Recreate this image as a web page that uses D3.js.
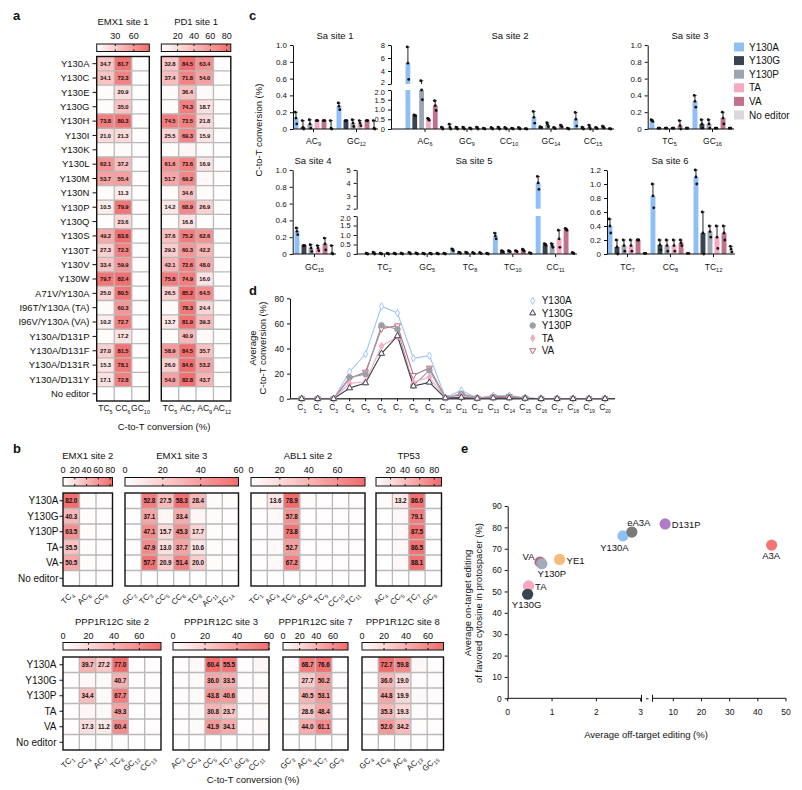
<!DOCTYPE html>
<html><head><meta charset="utf-8">
<script src="https://cdn.jsdelivr.net/npm/d3@7"></script>
<style>
body{margin:0;background:#fff}
svg{display:block}
text{font-family:"Liberation Sans",Arial,Helvetica,sans-serif;fill:#111}
</style>
</head><body>
<svg id="c" width="802" height="790"></svg>
<script>
// ---------------- DATA ----------------
const rowsA = ["Y130A","Y130C","Y130E","Y130G","Y130H","Y130I","Y130K","Y130L","Y130M","Y130N","Y130P","Y130Q","Y130S","Y130T","Y130V","Y130W","A71V/Y130A","I96T/Y130A (TA)","I96V/Y130A (VA)","Y130A/D131P","Y130A/D131F","Y130A/D131R","Y130A/D131Y","No editor"];
const emx1s1Cols = ["TC5","CC6","GC10"];
const emx1s1Ticks = [30,60];
const emx1s1Vals = [
 [34.7,81.7,1.2],[34.1,72.3,1.2],[2.5,20.9,1.0],[2.5,35.0,1.0],[73.8,80.3,1.2],[21.0,21.3,1.0],
 [1.5,3.0,0.8],[62.1,37.2,1.0],[53.7,55.4,1.0],[1.5,11.3,0.8],[10.5,79.9,1.0],[2.0,23.6,0.8],
 [49.2,83.6,1.0],[27.3,72.3,1.0],[33.4,59.9,1.0],[79.7,82.4,1.0],[25.0,80.5,1.0],[3.0,60.3,1.0],
 [10.2,72.7,1.0],[2.0,17.2,0.8],[27.0,81.5,1.0],[15.3,78.1,1.0],[17.1,72.8,1.0],[0.5,0.5,0.5]];
const pd1s1Cols = ["TC5","AC7","AC9","AC12"];
const pd1s1Ticks = [20,40,60,80];
const pd1s1Vals = [
 [32.8,84.5,63.4,1.0],[37.4,71.8,54.0,1.0],[3.0,36.4,3.0,1.0],[2.5,74.3,18.7,1.0],[74.5,73.5,21.8,1.0],
 [25.5,69.3,15.9,1.0],[1.5,6.0,1.5,0.8],[61.6,73.6,16.9,1.0],[51.7,69.2,4.0,1.0],[2.0,34.6,2.0,0.8],
 [14.2,68.9,26.9,1.0],[2.0,16.8,2.0,0.8],[37.6,75.2,62.6,1.0],[29.3,60.3,42.2,1.0],[42.1,72.6,48.0,1.0],
 [75.8,74.9,16.0,1.0],[26.5,85.2,64.5,1.0],[3.0,78.3,24.4,1.0],[13.7,81.9,39.3,1.0],[2.0,40.9,3.0,0.8],
 [58.9,84.5,35.7,1.0],[26.0,84.6,53.2,1.0],[54.0,82.8,43.7,1.0],[0.5,0.5,0.5,0.5]];

const rowsB = ["Y130A","Y130G","Y130P","TA","VA","No editor"];
const emx1s2Cols = ["TC4","AC6","CC8"];
const emx1s2Ticks = [0,20,40,60,80];
const emx1s2Vals = [[82.0,2,1],[40.3,1.5,1],[63.5,1.5,1],[35.5,1.5,1],[50.5,1.5,1],[0.5,0.5,0.5]];
const emx1s3Cols = ["GC2","TC3","CC5","CC6","TC8","AC11","TC14"];
const emx1s3Ticks = [0,20,40,60];
const emx1s3Vals = [[1,52.8,27.5,58.3,28.4,2,1.5],[1,37.1,4,33.4,4,1.5,1],[1,47.1,15.7,45.3,17.7,1.5,1],[1,47.9,13.0,37.7,10.6,1.5,1],[1,57.7,20.9,51.4,20.0,1.5,1],[0.5,0.5,0.5,0.5,0.5,0.5,0.5]];
const abl1s2Cols = ["TC1","AC4","TC5","GC6","TC9","CC10","TC11"];
const abl1s2Ticks = [0,20,40,60];
const abl1s2Vals = [[1.5,13.6,78.9,2,1,1,1],[1,4,57.8,1,1,1,1],[1,4,73.8,1,1,1,1],[1,4,52.7,1,1,1,1],[1,4,67.2,1,1,1,1],[0.5,0.5,0.5,0.5,0.5,0.5,0.5]];
const tp53Cols = ["AC4","CC5","TC7","GC9"];
const tp53Ticks = [20,40,60,80];
const tp53Vals = [[2.5,13.2,86.0,1.5],[1.5,5,79.1,1],[1.5,5,87.5,1],[1.5,5,86.5,1],[1.5,5,88.1,1],[0.5,0.5,0.5,0.5]];
const ppps2Cols = ["TC1","CC4","AC7","TC8","GC12","CC13"];
const ppps2Ticks = [0,20,40,60];
const ppps2Vals = [[1,39.7,27.2,77.0,1,1],[1,4,3,40.7,1,1],[1,34.4,3,67.7,1,1],[1,5,3,49.3,1,1],[1,17.3,11.2,60.4,1,1],[0.5,0.5,0.5,0.5,0.5,0.5]];
const ppps3Cols = ["AC3","CC4","CC5","TC7","GC8","CC11"];
const ppps3Ticks = [0,20,40,60];
const ppps3Vals = [[1,3,60.4,55.5,1,4],[1,2,36.0,33.5,1,1.5],[1,2,43.8,40.6,1,3],[1,2,30.8,23.7,1,1.5],[1,2,41.9,34.1,1,2],[0.5,0.5,0.5,0.5,0.5,0.5]];
const ppps7Cols = ["GC3","AC5","TC7","GC9"];
const ppps7Ticks = [0,20,40,60];
const ppps7Vals = [[2,68.7,76.6,1],[1,27.7,50.2,1],[1,40.5,53.1,1],[1,28.6,48.4,1],[1,44.0,61.1,1],[0.5,0.5,0.5,0.5]];
const ppps8Cols = ["GC4","TC6","AC8","AC13","GC15"];
const ppps8Ticks = [0,20,40,60];
const ppps8Vals = [[2,72.7,59.8,4,1],[1,36.0,19.0,1.5,1],[1,44.8,19.9,3,1],[1,35.3,19.3,1.5,1],[1,52.0,34.2,1.5,1],[0.5,0.5,0.5,0.5,0.5]];

const cSeries = ["Y130A","Y130G","Y130P","TA","VA","No editor"];
const cColors = ["#8fbff4","#3b4351","#9ca5b3","#f5a9c0","#c0718b","#d9d9d9"];
const sa1Groups = ["AC9","GC12"];
const sa1Mean = [[0.13,0.02,0.06,0.10,0.10,0.01],[0.27,0.10,0.07,0.07,0.10,0.01]];
const sa1Sd   = [[0.07,0.08,0.05,0.00,0.00,0.09],[0.04,0.00,0.04,0.03,0.00,0.09]];
const sa2Groups = ["AC6","GC9","CC10","GC14","CC15"];
const sa2Mean = [[5.2,0.70,2.0,0.50,1.20,0.05],[0.10,0.05,0.05,0.02,0.05,0.02],[0.03,0.05,0.03,0.02,0.03,0.01],[0.60,0.10,0.22,0.05,0.15,0.02],[0.50,0.05,0.10,0.05,0.10,0.01]];
const sa2Sd   = [[2.5,0.02,0.5,0.05,0.25,0.05],[0.15,0.05,0.05,0.03,0.05,0.02],[0.05,0.05,0.05,0.02,0.05,0.01],[0.30,0.02,0.10,0.03,0.05,0.02],[0.35,0.05,0.10,0.03,0.05,0.01]];
const sa3Groups = ["TC5","GC16"];
const sa3Mean = [[0.10,0.01,0.01,0.01,0.04,0.01],[0.33,0.06,0.06,0.01,0.13,0.01]];
const sa3Sd   = [[0.01,0.00,0.00,0.00,0.06,0.00],[0.07,0.05,0.05,0.00,0.07,0.00]];
const sa4Groups = ["GC15"];
const sa4Mean = [[0.27,0.10,0.07,0.07,0.12,0.01]];
const sa4Sd   = [[0.04,0.00,0.04,0.03,0.07,0.09]];
const sa5Groups = ["TC2","GC5","TC8","TC10","CC11"];
const sa5Mean = [[0.02,0.05,0.02,0.02,0.02,0.02],[0.05,0.03,0.02,0.02,0.02,0.02],[0.22,0.07,0.07,0.05,0.05,0.02],[0.95,0.15,0.15,0.15,0.20,0.05],[4.0,0.50,0.45,0.80,1.30,0.05]];
const sa5Sd   = [[0.02,0.05,0.02,0.02,0.02,0.02],[0.04,0.03,0.02,0.02,0.02,0.02],[0.05,0.03,0.03,0.03,0.03,0.02],[0.15,0.03,0.03,0.03,0.05,0.02],[0.5,0.05,0.10,0.45,0.05,0.03]];
const sa6Groups = ["TC7","CC8","TC12"];
const sa6Mean = [[0.40,0.10,0.12,0.12,0.20,0.01],[0.83,0.13,0.12,0.12,0.16,0.01],[1.10,0.30,0.32,0.24,0.30,0.07]];
const sa6Sd   = [[0.10,0.10,0.08,0.08,0.00,0.00],[0.17,0.07,0.08,0.08,0.04,0.00],[0.10,0.30,0.08,0.16,0.10,0.04]];

const dPositions = ["1","2","3","4","5","6","7","8","9","10","11","12","13","14","15","16","17","18","19","20"];
const dY130A = [0,0,0,21.5,35.6,73.6,68.3,32.2,34.3,1.0,6.6,0.5,2.5,2.5,0.8,0,0,0,0,0];
const dY130G = [0,0,0,8.5,12.5,36.0,50.0,10.0,13.0,0.5,1.0,0.2,0.5,0.5,0.2,0,0,0,0,0];
const dY130P = [0,0,0,17.0,19.4,58.5,55.3,10.5,22.6,0.5,4.0,0.5,1.0,1.5,0.5,0,0,0,0,0];
const dTA    = [0,0,0,12.2,13.5,42.0,49.4,13.0,17.3,0.5,2.0,0.5,1.0,1.0,0.3,0,0,0,0,0];
const dVA    = [0,0,0,16.2,21.3,55.8,58.2,18.6,24.5,1.0,3.0,0.5,1.5,2.0,0.5,0,0,0,0,0];

const eNames = ["VA","Y130P","YE1","TA","Y130G","Y130A","eA3A","D131P","A3A"];
const eOff   = [0.73,0.77,1.17,0.47,0.45,2.6,2.8,7.1,44.9];
const eOn    = [63.8,63.0,65.0,52.6,48.7,76.0,77.8,81.6,71.7];
const eColors= ["#b5647e","#a3abb8","#f5ba7c","#f5a8bf","#3a4352","#8fc0f5","#7a7a7a","#b07cc8","#f47474"];
const eXTicksLow = [0,1,2,3];
const eXTicksHigh = [10,20,30,40,50];
const eYTicks = [0,10,20,30,40,50,60,70,80,90];

// ---------------- DRAWING ----------------
const HEAT = "#f26c6c";
const svg = d3.select("#c");
const defs = svg.append("defs");
let gid = 0;

function subLabel(sel, label, size, subSize) {
  const m = label.match(/^([A-Za-z]+)(\d+)$/);
  sel.attr("font-size", size);
  sel.append("tspan").text(m[1]);
  sel.append("tspan").attr("font-size", subSize).attr("dy", size * 0.3).text(m[2]);
}

function rowLabels(rows, y0, y1, xEnd, tickX1, tickX2, size) {
  const yb = d3.scaleBand().domain(rows).range([y0, y1]);
  const g = svg.append("g");
  rows.forEach(r => {
    const y = yb(r) + yb.bandwidth() / 2;
    g.append("text").attr("x", xEnd).attr("y", y).attr("dy", "0.35em").attr("text-anchor", "end").attr("font-size", size).text(r);
    g.append("line").attr("x1", tickX1).attr("x2", tickX2).attr("y1", y).attr("y2", y).attr("stroke", "#111").attr("stroke-width", 1);
  });
}

function heatmap(o) {
  const g = svg.append("g");
  const xb = d3.scaleBand().domain(d3.range(o.cols.length)).range([o.x0, o.x1]);
  const yb = d3.scaleBand().domain(o.rows).range([o.y0, o.y1]);
  const col = d3.scaleLinear().domain([0, o.max]).range(["#ffffff", HEAT]).clamp(true);
  o.vals.forEach((r, i) => r.forEach((v, j) => {
    g.append("rect").attr("x", xb(j)).attr("y", yb(o.rows[i])).attr("width", xb.bandwidth()).attr("height", yb.bandwidth()).attr("fill", col(v));
    if (v >= 10) g.append("text").attr("x", xb(j) + xb.bandwidth() / 2).attr("y", yb(o.rows[i]) + yb.bandwidth() / 2)
      .attr("dy", "0.36em").attr("text-anchor", "middle").attr("font-size", o.cellFont).attr("font-weight", "bold").attr("letter-spacing", -0.1).text(v.toFixed(1));
  }));
  const grid = g.append("g").attr("stroke", "#b9b9b9").attr("stroke-width", 1.3);
  for (let j = 1; j < o.cols.length; j++) grid.append("line").attr("x1", xb(j)).attr("x2", xb(j)).attr("y1", o.y0).attr("y2", o.y1);
  o.rows.forEach((r, i) => { if (i > 0) grid.append("line").attr("x1", o.x0).attr("x2", o.x1).attr("y1", yb(r)).attr("y2", yb(r)); });
  g.append("rect").attr("x", o.x0).attr("y", o.y0).attr("width", o.x1 - o.x0).attr("height", o.y1 - o.y0)
    .attr("fill", "none").attr("stroke", "#111").attr("stroke-width", 1.4);
  // colour bar
  const id = "grad" + (gid++);
  const lg = defs.append("linearGradient").attr("id", id);
  lg.append("stop").attr("offset", "0%").attr("stop-color", "#ffffff");
  lg.append("stop").attr("offset", "100%").attr("stop-color", HEAT);
  const cs = d3.scaleLinear().domain([0, o.max]).range([o.x0, o.x1]);
  g.append("rect").attr("x", o.x0).attr("y", o.cb0).attr("width", o.x1 - o.x0).attr("height", o.cb1 - o.cb0)
    .attr("fill", `url(#${id})`).attr("stroke", "#111").attr("stroke-width", 1);
  o.ticks.forEach(t => {
    const x = cs(t);
    if (t > 0) {
      g.append("line").attr("x1", x).attr("x2", x).attr("y1", o.cb0).attr("y2", o.cb0 + 2).attr("stroke", "#111");
      g.append("line").attr("x1", x).attr("x2", x).attr("y1", o.cb1 - 2).attr("y2", o.cb1).attr("stroke", "#111");
    }
    g.append("text").attr("x", x).attr("y", o.tickY).attr("text-anchor", "middle").attr("font-size", o.tickFont).text(t);
  });
  g.append("text").attr("x", (o.x0 + o.x1) / 2).attr("y", o.titleY).attr("text-anchor", "middle").attr("font-size", o.titleFont).text(o.title);
  o.cols.forEach((c, j) => {
    const cx = xb(j) + xb.bandwidth() / 2;
    if (o.rotate) {
      const t = g.append("text").attr("transform", `translate(${cx + 3},${o.labY}) rotate(-45)`).attr("text-anchor", "end");
      subLabel(t, c, 8, 5.5);
    } else {
      const t = g.append("text").attr("x", cx).attr("y", o.labY).attr("text-anchor", "middle");
      subLabel(t, c, 8.5, 5.5);
    }
  });
}

// ---- Panel a ----
svg.append("text").attr("x", 13).attr("y", 20).attr("font-size", 13).attr("font-weight", "bold").text("a");
const aCommon = {rows: rowsA, y0: 56.5, y1: 401, cb0: 44, cb1: 51.5, tickY: 39, titleY: 25, labY: 411, cellFont: 5.8, tickFont: 9, titleFont: 9.5, max: 85};
heatmap(Object.assign({}, aCommon, {x0: 96.7, x1: 149.3, cols: emx1s1Cols, vals: emx1s1Vals, ticks: emx1s1Ticks, title: "EMX1 site 1"}));
heatmap(Object.assign({}, aCommon, {x0: 161.3, x1: 230.8, cols: pd1s1Cols, vals: pd1s1Vals, ticks: pd1s1Ticks, title: "PD1 site 1"}));
rowLabels(rowsA, 56.5, 401, 89.5, 92.5, 96.7, 9.5);
svg.append("text").attr("x", 164).attr("y", 430).attr("text-anchor", "middle").attr("font-size", 9.5).text("C-to-T conversion (%)");

// ---- Panel b ----
svg.append("text").attr("x", 13).attr("y", 453).attr("font-size", 13).attr("font-weight", "bold").text("b");
const bTop = {rows: rowsB, y0: 493, y1: 586, cb0: 477.5, cb1: 486, tickY: 472.5, titleY: 459, labY: 595, cellFont: 6.3, tickFont: 9, titleFont: 9.5, rotate: true};
heatmap(Object.assign({}, bTop, {x0: 63, x1: 112.5, cols: emx1s2Cols, vals: emx1s2Vals, ticks: emx1s2Ticks, max: 84, title: "EMX1 site 2"}));
heatmap(Object.assign({}, bTop, {x0: 125, x1: 238.5, cols: emx1s3Cols, vals: emx1s3Vals, ticks: emx1s3Ticks, max: 60, title: "EMX1 site 3"}));
heatmap(Object.assign({}, bTop, {x0: 251, x1: 365, cols: abl1s2Cols, vals: abl1s2Vals, ticks: abl1s2Ticks, max: 79, title: "ABL1 site 2"}));
heatmap(Object.assign({}, bTop, {x0: 376, x1: 441.5, cols: tp53Cols, vals: tp53Vals, ticks: tp53Ticks, max: 90, title: "TP53"}));
rowLabels(rowsB, 493, 586, 58.5, 59.5, 63, 10);
const bBot = {rows: rowsB, y0: 657, y1: 750, cb0: 642.5, cb1: 650, tickY: 638.5, titleY: 624.5, labY: 759, cellFont: 6.3, tickFont: 9, titleFont: 9.5, rotate: true};
heatmap(Object.assign({}, bBot, {x0: 63, x1: 161, cols: ppps2Cols, vals: ppps2Vals, ticks: ppps2Ticks, max: 77, title: "PPP1R12C site 2"}));
heatmap(Object.assign({}, bBot, {x0: 173, x1: 269, cols: ppps3Cols, vals: ppps3Vals, ticks: ppps3Ticks, max: 60, title: "PPP1R12C site 3"}));
heatmap(Object.assign({}, bBot, {x0: 283, x1: 348, cols: ppps7Cols, vals: ppps7Vals, ticks: ppps7Ticks, max: 78, title: "PPP1R12C site 7"}));
heatmap(Object.assign({}, bBot, {x0: 362, x1: 443.5, cols: ppps8Cols, vals: ppps8Vals, ticks: ppps8Ticks, max: 74, title: "PPP1R12C site 8"}));
rowLabels(rowsB, 657, 750, 56.5, 59.5, 63, 10);
svg.append("text").attr("x", 253).attr("y", 783).attr("text-anchor", "middle").attr("font-size", 9.5).text("C-to-T conversion (%)");

// ---- Panel c ----
svg.append("text").attr("x", 249).attr("y", 20).attr("font-size", 13).attr("font-weight", "bold").text("c");
svg.append("text").attr("transform", "translate(262,130) rotate(-90)").attr("text-anchor", "middle").attr("font-size", 9.5).text("C-to-T conversion (%)");

const fmtDec = d => d === 0 ? "0" : d3.format(".1f")(d);
function barPanel(o) {
  const g = svg.append("g");
  const gx = d3.scaleBand().domain(o.groups).range(o.band);
  const bx = d3.scaleBand().domain(cSeries).range([1.5, gx.bandwidth() - 1.5]).paddingInner(0.3);
  const low = d3.scaleLinear().domain(o.lowDom).range(o.lowRange);
  const up = o.upDom ? d3.scaleLinear().domain(o.upDom).range(o.upRange) : null;
  const brk = o.lowDom[1];
  const Y = v => (up && v > brk) ? up(v) : low(v);
  const seg = (a, b) => {
    if (!up || b <= brk) return [[low(a), low(b)]];
    if (a >= brk) return [[up(a), up(b)]];
    return [[low(a), low(brk)], [up(brk), up(b)]];
  };
  o.groups.forEach((gr, i) => {
    cSeries.forEach((s, k) => {
      const m = o.mean[i][k], sd = o.sd[i][k];
      const x = gx(gr) + bx(s), w = bx.bandwidth(), cx = x + w / 2;
      seg(0, m).forEach(([y1, y2]) => g.append("rect").attr("x", x).attr("y", y2).attr("width", w).attr("height", Math.max(0, y1 - y2)).attr("fill", cColors[k]));
      if (sd > 0) {
        seg(m, m + sd).forEach(([y1, y2]) => g.append("line").attr("x1", cx).attr("x2", cx).attr("y1", y1).attr("y2", y2).attr("stroke", "#111").attr("stroke-width", 0.9));
        const yt = Y(m + sd);
        g.append("line").attr("x1", cx - 1.6).attr("x2", cx + 1.6).attr("y1", yt).attr("y2", yt).attr("stroke", "#111").attr("stroke-width", 0.9);
      }
      [m + sd, m, Math.max(0, m - sd)].forEach((v, q) => g.append("circle").attr("cx", cx + (q - 1) * 0.8).attr("cy", Y(v)).attr("r", 1.4).attr("fill", "#111"));
    });
    const gc = gx(gr) + gx.bandwidth() / 2;
    g.append("line").attr("x1", gc).attr("x2", gc).attr("y1", o.lowRange[0]).attr("y2", o.lowRange[0] + 3).attr("stroke", "#111");
    const t = g.append("text").attr("x", gc).attr("y", o.labY).attr("text-anchor", "middle");
    subLabel(t, gr, 8.5, 5.5);
  });
  const fs = up ? 7.5 : 8;
  const axL = g.append("g").attr("transform", `translate(${o.axisX},0)`)
    .call(d3.axisLeft(low).tickValues(o.lowTicks).tickSize(3).tickSizeOuter(0).tickFormat(o.lowFmt || fmtDec));
  axL.attr("font-size", fs);
  if (up) {
    axL.selectAll(".tick text").filter(d => d === brk).attr("dy", "0.55em");
    const axU = g.append("g").attr("transform", `translate(${o.axisX},0)`)
      .call(d3.axisLeft(up).tickValues(o.upTicks).tickSize(3).tickSizeOuter(0).tickFormat(d3.format("d")));
    axU.attr("font-size", fs);
    axU.selectAll(".tick text").filter(d => d === brk).attr("dy", "0.1em");
  }
  g.selectAll(".domain, .tick line").attr("stroke", "#111");
  g.append("line").attr("x1", o.axisX).attr("x2", o.axisEnd).attr("y1", o.lowRange[0]).attr("y2", o.lowRange[0]).attr("stroke", "#111");
  g.append("text").attr("x", o.titleX).attr("y", o.titleY).attr("text-anchor", "middle").attr("font-size", 9.5).text(o.title);
}
const t01 = [0, 0.2, 0.4, 0.6, 0.8, 1.0];
const t02 = [0, 0.5, 1.0, 1.5, 2.0];
barPanel({axisX: 293, axisEnd: 378, band: [292, 378], groups: sa1Groups, mean: sa1Mean, sd: sa1Sd, lowDom: [0, 1], lowRange: [129, 45], lowTicks: t01, title: "Sa site 1", titleX: 335, titleY: 39, labY: 143.5});
barPanel({axisX: 391, axisEnd: 614, band: [404, 614], groups: sa2Groups, mean: sa2Mean, sd: sa2Sd, lowDom: [0, 2], lowRange: [129, 90], lowTicks: t02, upDom: [2, 8], upRange: [84, 45], upTicks: [2, 4, 6, 8], title: "Sa site 2", titleX: 510, titleY: 39, labY: 143.5});
barPanel({axisX: 647.7, axisEnd: 734, band: [648, 734], groups: sa3Groups, mean: sa3Mean, sd: sa3Sd, lowDom: [0, 1], lowRange: [129, 45], lowTicks: t01, title: "Sa site 3", titleX: 690, titleY: 39, labY: 143.5});
barPanel({axisX: 292.7, axisEnd: 336, band: [293, 336], groups: sa4Groups, mean: sa4Mean, sd: sa4Sd, lowDom: [0, 1], lowRange: [254, 170], lowTicks: t01, title: "Sa site 4", titleX: 313, titleY: 164, labY: 269.5});
barPanel({axisX: 356.7, axisEnd: 577, band: [363, 577], groups: sa5Groups, mean: sa5Mean, sd: sa5Sd, lowDom: [0, 2], lowRange: [254, 216], lowTicks: t02, upDom: [2, 5], upRange: [208.7, 170], upTicks: [2, 3, 4, 5], title: "Sa site 5", titleX: 474, titleY: 164, labY: 269.5});
barPanel({axisX: 607, axisEnd: 735, band: [606, 735], groups: sa6Groups, mean: sa6Mean, sd: sa6Sd, lowDom: [0, 1.2], lowRange: [254, 170], lowTicks: [0, 0.2, 0.4, 0.6, 0.8, 1.0, 1.2], title: "Sa site 6", titleX: 670, titleY: 164, labY: 269.5});
// legend c
const legC = svg.append("g");
const legY = d3.scalePoint().domain(cSeries).range([47, 115]);
cSeries.forEach((s, k) => {
  legC.append("rect").attr("x", 734).attr("y", legY(s) - 4.5).attr("width", 10).attr("height", 9).attr("fill", cColors[k]);
  legC.append("text").attr("x", 749).attr("y", legY(s)).attr("dy", "0.35em").attr("font-size", 10).text(s);
});

// ---- Panel d ----
svg.append("text").attr("x", 249).attr("y", 295).attr("font-size", 13).attr("font-weight", "bold").text("d");
const dx = d3.scalePoint().domain(dPositions).range([301.7, 605]);
const dy = d3.scaleLinear().domain([0, 80]).range([398.7, 298.3]);
const gd = svg.append("g");
gd.append("g").attr("transform", "translate(290,0)").call(d3.axisLeft(dy).tickValues([0, 20, 40, 60, 80]).tickSize(3).tickSizeOuter(0)).attr("font-size", 8.5);
gd.selectAll(".domain, .tick line").attr("stroke", "#111");
gd.append("line").attr("x1", 290).attr("x2", 615).attr("y1", dy(0)).attr("y2", dy(0)).attr("stroke", "#444").attr("stroke-width", 1.6);
dPositions.forEach(p => {
  gd.append("line").attr("x1", dx(p)).attr("x2", dx(p)).attr("y1", dy(0)).attr("y2", dy(0) + 2.5).attr("stroke", "#111");
  const t = gd.append("text").attr("x", dx(p)).attr("y", 410).attr("text-anchor", "middle");
  subLabel(t, "C" + p, 8.5, 5);
});
svg.append("text").attr("transform", "translate(256,348) rotate(-90)").attr("text-anchor", "middle").attr("font-size", 9.5).text("Average");
svg.append("text").attr("transform", "translate(266,348) rotate(-90)").attr("text-anchor", "middle").attr("font-size", 9.5).text("C-to-T conversion (%)");
const dSeries = [
  {name: "Y130A", vals: dY130A, color: "#9fc6f6", sym: d3.symbolDiamond, fill: "#ffffff", rot: 0, size: 15},
  {name: "Y130G", vals: dY130G, color: "#3b3e4a", sym: d3.symbolTriangle, fill: "#ffffff", rot: 0, size: 16},
  {name: "Y130P", vals: dY130P, color: "#9d9da6", sym: d3.symbolCircle, fill: "#9d9da6", rot: 0, size: 24},
  {name: "TA", vals: dTA, color: "#f4aec3", sym: d3.symbolDiamond, fill: "#f4aec3", rot: 0, size: 15},
  {name: "VA", vals: dVA, color: "#b8697f", sym: d3.symbolTriangle, fill: "#ffffff", rot: 180, size: 16}
];
const drawOrder = [0, 4, 2, 3, 1];
const line = d3.line().x((v, i) => dx(dPositions[i])).y(v => dy(v));
drawOrder.forEach(k => {
  const s = dSeries[k];
  gd.append("path").attr("d", line(s.vals)).attr("fill", "none").attr("stroke", s.color).attr("stroke-width", 1.1);
});
drawOrder.forEach(k => {
  const s = dSeries[k];
  const sym = d3.symbol().type(s.sym).size(s.size);
  s.vals.forEach((v, i) => gd.append("path").attr("d", sym()).attr("transform", `translate(${dx(dPositions[i])},${dy(v)}) rotate(${s.rot})`)
    .attr("fill", s.fill).attr("stroke", s.color).attr("stroke-width", 1));
});
const legD = d3.scalePoint().domain(dSeries.map(s => s.name)).range([300.7, 350.5]);
dSeries.forEach(s => {
  const sym = d3.symbol().type(s.sym).size(s.size);
  gd.append("path").attr("d", sym()).attr("transform", `translate(532.7,${legD(s.name)}) rotate(${s.rot})`).attr("fill", s.fill).attr("stroke", s.color).attr("stroke-width", 1);
  gd.append("text").attr("x", 541.7).attr("y", legD(s.name)).attr("dy", "0.35em").attr("font-size", 10).text(s.name);
});

// ---- Panel e ----
svg.append("text").attr("x", 461).attr("y", 453).attr("font-size", 13).attr("font-weight", "bold").text("e");
const ge = svg.append("g");
const ex1 = d3.scaleLinear().domain([0, 3]).range([507.7, 640.7]);
const ex2 = d3.scaleLinear().domain([10, 50]).range([673.3, 786]);
const EX = v => v <= 3 ? ex1(v) : ex2(v);
const ey = d3.scaleLinear().domain([0, 90]).range([698.3, 506]);
ge.append("g").attr("transform", "translate(507.7,0)").call(d3.axisLeft(ey).tickValues(eYTicks).tickSize(3).tickSizeOuter(0)).attr("font-size", 8.5);
ge.selectAll(".domain, .tick line").attr("stroke", "#111");
const y0e = ey(0);
ge.append("line").attr("x1", 507.7).attr("x2", 641.5).attr("y1", y0e).attr("y2", y0e).attr("stroke", "#111");
ge.append("line").attr("x1", 652.5).attr("x2", 786).attr("y1", y0e).attr("y2", y0e).attr("stroke", "#111");
ge.append("line").attr("x1", 641.5).attr("x2", 641.5).attr("y1", y0e - 3.5).attr("y2", y0e + 3.5).attr("stroke", "#111");
ge.append("line").attr("x1", 652.5).attr("x2", 652.5).attr("y1", y0e - 3.5).attr("y2", y0e + 3.5).attr("stroke", "#111");
ge.append("line").attr("x1", 646).attr("x2", 648.5).attr("y1", y0e + 0.5).attr("y2", y0e + 0.5).attr("stroke", "#111");
eXTicksLow.concat(eXTicksHigh).forEach(t => {
  const x = EX(t);
  ge.append("line").attr("x1", x).attr("x2", x).attr("y1", y0e).attr("y2", y0e + 3).attr("stroke", "#111");
  ge.append("text").attr("x", x).attr("y", 714.5).attr("text-anchor", "middle").attr("font-size", 8.5).text(t);
});
ge.append("text").attr("x", 646).attr("y", 738).attr("text-anchor", "middle").attr("font-size", 9.5).text("Average off-target editing (%)");
ge.append("text").attr("transform", "translate(471,603) rotate(-90)").attr("text-anchor", "middle").attr("font-size", 9.5).text("Average on-target editing");
ge.append("text").attr("transform", "translate(481.5,603) rotate(-90)").attr("text-anchor", "middle").attr("font-size", 9.5).text("of favored cytosine in protospacer (%)");
eNames.forEach((n, i) => {
  ge.append("circle").attr("cx", EX(eOff[i])).attr("cy", ey(eOn[i])).attr("r", 5.6).attr("fill", eColors[i]);
});
const eLab = {
  "Y130A": [-8.5, 15, "middle"], "eA3A": [7, -6.5, "middle"], "D131P": [6.5, 4, "start"], "A3A": [-0.5, 14, "middle"],
  "VA": [-11.5, -1.5, "middle"], "Y130P": [10, 13, "middle"], "YE1": [7, 4.5, "start"], "TA": [6.5, 4.5, "start"], "Y130G": [-1, 14, "middle"]
};
eNames.forEach((n, i) => {
  const [ox, oy, anc] = eLab[n];
  ge.append("text").attr("x", EX(eOff[i]) + ox).attr("y", ey(eOn[i]) + oy).attr("text-anchor", anc).attr("font-size", 9.5).text(n);
});
</script>
</body></html>
